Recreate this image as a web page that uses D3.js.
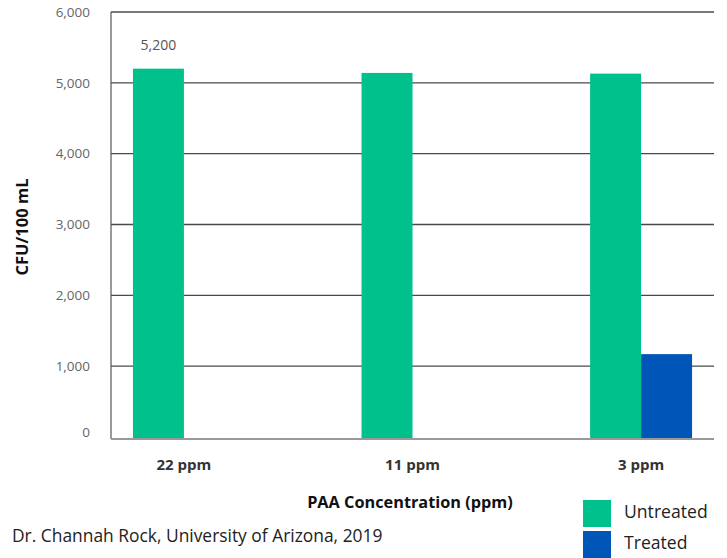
<!DOCTYPE html>
<html>
<head>
<meta charset="utf-8">
<script src="https://cdn.jsdelivr.net/npm/d3@7"></script>
<style>
  html, body { margin: 0; padding: 0; background: #fff; }
  svg { display: block; font-family: "Open Sans", "Noto Sans", sans-serif; }
</style>
</head>
<body>
<svg id="chart" width="727" height="558"></svg>
<script>
// Bacterial counts before and after peracetic acid treatment
const categories = ["22 ppm", "11 ppm", "3 ppm"];
const seriesNames = ["Untreated", "Treated"];
const untreated = [5200, 5140, 5130];
const treated = [0, 0, 1170];
const yTicks = [0, 1000, 2000, 3000, 4000, 5000, 6000];
const valueLabels = [{ category: "22 ppm", value: 5200 }];

const colors = { Untreated: "#00C08B", Treated: "#0055B8" };

const svg = d3.select("#chart");
const plotLeft = 111, plotRight = 714, plotTop = 12, plotBottom = 437;

const x = d3.scaleBand().domain(categories).range([plotLeft, plotRight])
  .paddingInner(0.554).paddingOuter(0.096);
const xs = d3.scaleBand().domain(seriesNames).range([0, x.bandwidth()]);
const y = d3.scaleLinear().domain([0, 6000]).range([plotBottom, plotTop]);

// horizontal gridlines
svg.append("g").selectAll("line").data(yTicks.filter(d => d > 0)).join("line")
  .attr("x1", plotLeft).attr("x2", plotRight)
  .attr("y1", d => y(d)).attr("y2", d => y(d))
  .attr("stroke", "#4a4a4a").attr("stroke-width", 1.3);

// bars
const rows = categories.map((c, i) => ({ c, vals: [untreated[i], treated[i]] }));
const g = svg.append("g");
rows.forEach(r => {
  g.append("g").selectAll("rect")
    .data(seriesNames.map((s, j) => ({ s, v: r.vals[j] })).filter(d => d.v > 0))
    .join("rect")
    .attr("x", d => x(r.c) + xs(d.s))
    .attr("width", xs.bandwidth())
    .attr("y", d => y(d.v))
    .attr("height", d => y(0) - y(d.v) + 2)
    .attr("fill", d => colors[d.s]);
});

// left axis line and baseline
svg.append("line").attr("x1", plotLeft).attr("x2", plotLeft).attr("y1", plotTop).attr("y2", plotBottom + 2)
  .attr("stroke", "#555").attr("stroke-width", 1.2);
svg.append("line").attr("x1", plotLeft).attr("x2", plotRight).attr("y1", plotBottom + 2).attr("y2", plotBottom + 2)
  .attr("stroke", "#999").attr("stroke-width", 2);

// y tick labels
svg.append("g").selectAll("text").data(yTicks).join("text")
  .attr("x", 90)
  .attr("y", d => d === 0 ? y(d) - 5 : y(d))
  .attr("dy", "0.35em")
  .attr("text-anchor", "end")
  .attr("font-size", 13.5)
  .attr("fill", "#666")
  .text(d => d3.format(",")(d));

// value label
svg.append("g").selectAll("text").data(valueLabels).join("text")
  .attr("x", d => x(d.category) + xs("Untreated") + xs.bandwidth() / 2)
  .attr("y", d => y(d.value) - 19)
  .attr("text-anchor", "middle")
  .attr("font-size", 14)
  .attr("fill", "#555")
  .text(d => d3.format(",")(d.value));

// x category labels
svg.append("g").selectAll("text").data(categories).join("text")
  .attr("x", d => x(d) + x.bandwidth() / 2)
  .attr("y", 470)
  .attr("text-anchor", "middle")
  .attr("font-size", 15)
  .attr("font-weight", "bold")
  .attr("fill", "#333")
  .text(d => d);

// axis titles
svg.append("text")
  .attr("x", 410).attr("y", 508)
  .attr("text-anchor", "middle")
  .attr("font-size", 16.3).attr("font-weight", "bold").attr("fill", "#111")
  .text("PAA Concentration (ppm)");
svg.append("text")
  .attr("transform", "translate(28,227) rotate(-90)")
  .attr("text-anchor", "middle")
  .attr("font-size", 16.5).attr("font-weight", "bold").attr("fill", "#111")
  .text("CFU/100 mL");

// source note
svg.append("text")
  .attr("x", 12).attr("y", 542)
  .attr("font-size", 17.4).attr("fill", "#222")
  .text("Dr. Channah Rock, University of Arizona, 2019");

// legend
const legend = svg.append("g").selectAll("g").data(seriesNames).join("g")
  .attr("transform", (d, i) => `translate(583,${500 + i * 31})`);
legend.append("rect").attr("width", 28).attr("height", 27).attr("fill", d => colors[d]);
legend.append("text").attr("x", 41).attr("y", 18)
  .attr("font-size", 17.6).attr("fill", "#222").text(d => d);
</script>
</body>
</html>
